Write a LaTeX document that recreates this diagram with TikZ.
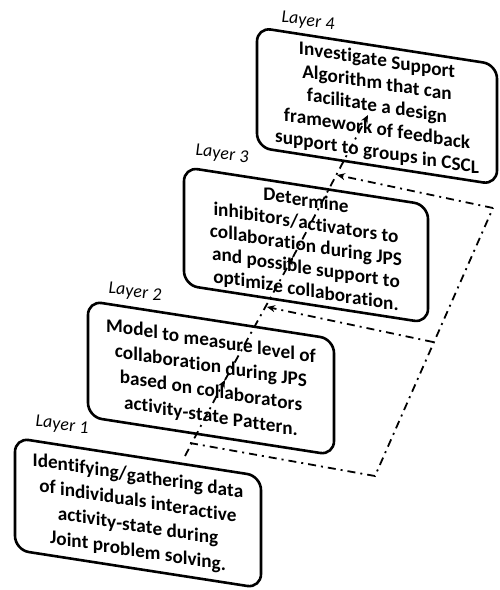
\documentclass[tikz,border=0pt]{standalone}
\usepackage{fontspec}
\setmainfont{Carlito}
\usetikzlibrary{arrows.meta}
\makeatletter
\newdimen\sl@acc \newdimen\sl@w \newdimen\sl@d
\newbox\sl@box
% one text line whose baseline slopes down to the right (slope 0.155), centred
\def\slantline#1{%
  \setbox\sl@box\hbox{#1}%
  \sl@acc=-0.5\wd\sl@box
  \sl@words#1 \sl@end}
\def\sl@words#1 #2\sl@end{%
  \@tfor\sl@c:=#1\do{\sl@char{\sl@c}}%
  \ifx\relax#2\relax\else
    \hskip\fontdimen2\font
    \advance\sl@acc by \fontdimen2\font
    \sl@words#2\sl@end
  \fi}
\def\sl@char#1{%
  \setbox\sl@box\hbox{#1}%
  \sl@w=\wd\sl@box
  \sl@d=\sl@acc \advance\sl@d by 0.5\sl@w
  \sl@d=0.155\sl@d
  \lower\sl@d\box\sl@box
  \advance\sl@acc by \sl@w}
\makeatother
\begin{document}
\begin{tikzpicture}[x=1pt,y=-1pt,
  wd/.style={inner sep=0pt, outer sep=0pt, anchor=base, font=\fontsize{19.2}{23}\selectfont\bfseries},
  lay/.style={inner sep=0pt, anchor=base, font=\fontsize{18}{20}\selectfont\itshape},
  boxline/.style={draw, line width=2.6pt, rounded corners=14pt},
  dd/.style={line width=1.8pt, dash pattern=on 8pt off 5pt on 2pt off 5pt},
  arr/.style={-{Stealth[length=8pt,width=7pt]}}]
\useasboundingbox (0,0) rectangle (499,590);
% connector points
\coordinate (m0) at (185,456);
\coordinate (m2) at (225,380);
\coordinate (m3) at (293,257);
\coordinate (m4) at (368,115);
\coordinate (f0) at (190,443);
\coordinate (f1) at (375,476);
\coordinate (f2) at (433,342);
\coordinate (f3) at (493,208);
\coordinate (e3) at (267,307);
\coordinate (e4) at (337,175);
\draw[dd,arr] (m0) -- (m2);
\draw[dd,arr] (m2) -- (m3);
\draw[dd,arr] (m3) -- (m4);
\draw[dd] (f0) -- (f1) -- (f3);
\draw[dd,arr] (f2) -- (e3);
\draw[dd,arr] (f3) -- (e4);
% box outlines (sheared rounded boxes)
\draw[boxline] (257,27.4) -- (497,64.6) -- (497,184.6) -- (257,147.4) -- cycle;
\draw[boxline] (184,167.1) -- (428,204.9) -- (428,322.9) -- (184,285.1) -- cycle;
\draw[boxline] (88,300.9) -- (334,339.1) -- (334,455.1) -- (88,416.9) -- cycle;
\draw[boxline] (15,437.9) -- (261,476.1) -- (261,588.1) -- (15,549.9) -- cycle;
% Layer 4 text
\node[wd] (d1) at (377,66) {\slantline{Investigate Support}};
\node[wd] (d2) at (377,89) {\slantline{Algorithm that can}};
\node[wd] (d3) at (377,112) {\slantline{facilitate a design}};
\node[wd] (d4) at (377,135) {\slantline{framework of feedback}};
\node[wd] (d5) at (377,158) {\slantline{support to groups in CSCL}};
% Layer 3 text
\node[wd] (c1) at (306,206.5) {\slantline{Determine}};
\node[wd] (c2) at (306,229) {\slantline{inhibitors/activators to}};
\node[wd] (c3) at (306,251.5) {\slantline{collaboration during JPS}};
\node[wd] (c4) at (306,274) {\slantline{and possible support to}};
\node[wd] (c5) at (306,296.5) {\slantline{optimize collaboration.}};
% Layer 2 text
\node[wd] (b1) at (211,347) {\slantline{Model to measure level of}};
\node[wd] (b2) at (211,372) {\slantline{collaboration during JPS}};
\node[wd] (b3) at (211,397) {\slantline{based on collaborators}};
\node[wd] (b4) at (211,422) {\slantline{activity-state Pattern.}};
% Layer 1 text
\node[wd] (a1) at (138,482) {\slantline{Identifying/gathering data}};
\node[wd] (a2) at (138,507) {\slantline{of individuals interactive}};
\node[wd] (a3) at (138,532) {\slantline{activity-state during}};
\node[wd] (a4) at (138,557) {\slantline{Joint problem solving.}};
% labels
\node[lay] (T4) at (308,26) {\slantline{Layer 4}};
\node[lay] (T3) at (222,159) {\slantline{Layer 3}};
\node[lay] (T2) at (135,297) {\slantline{Layer 2}};
\node[lay] (T1) at (62,430) {\slantline{Layer 1}};
\end{tikzpicture}
\end{document}
